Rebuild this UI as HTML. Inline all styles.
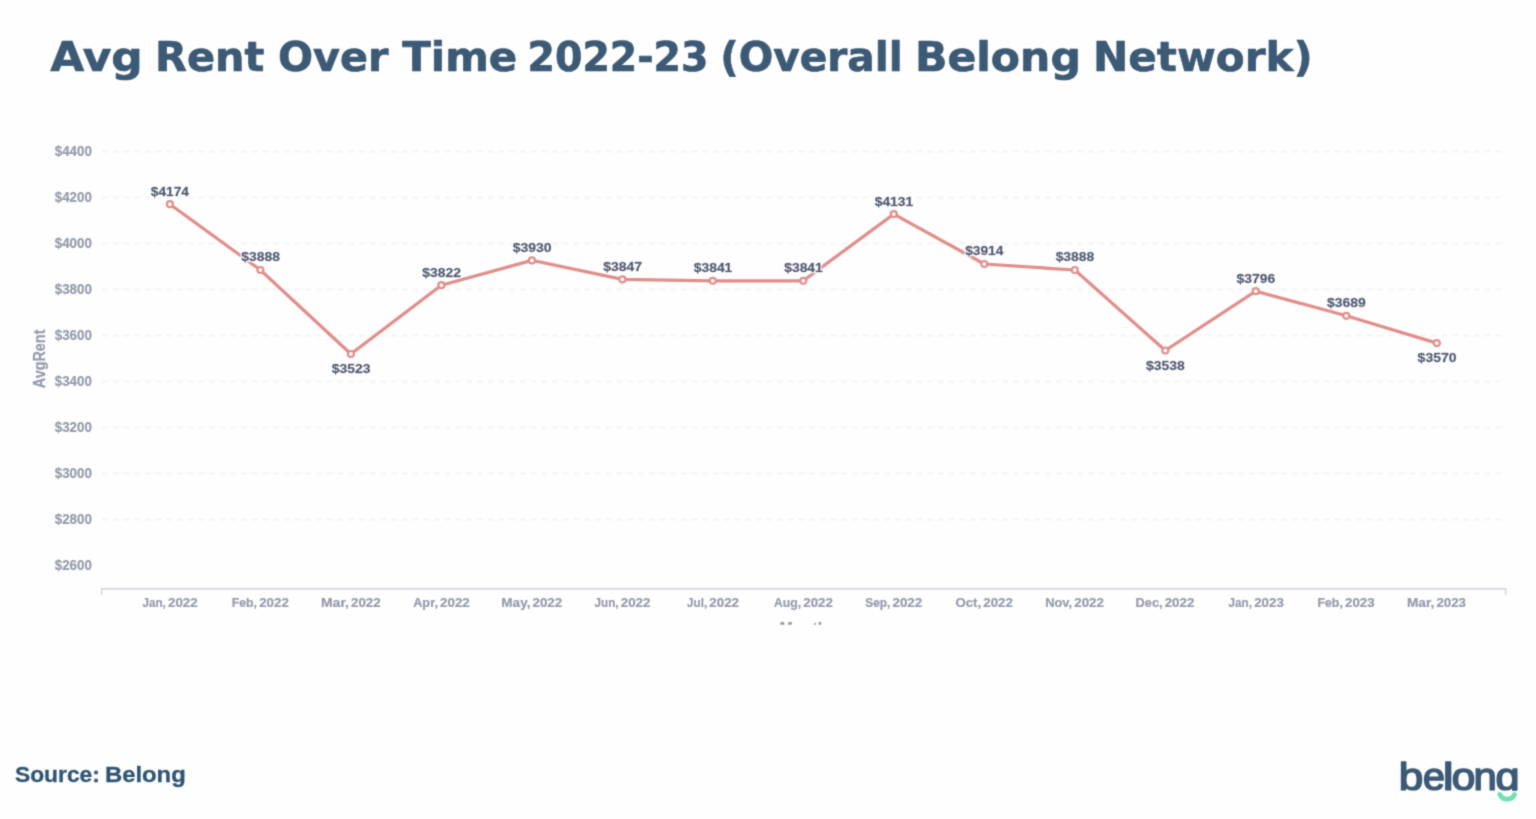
<!DOCTYPE html>
<html lang="en">
<head>
<meta charset="utf-8">
<title>Avg Rent Over Time 2022-23 (Overall Belong Network)</title>
<style>
html,body{margin:0;padding:0;background:#fefefe;}
body{width:1536px;height:819px;overflow:hidden;position:relative;font-family:"Liberation Sans",sans-serif;}
svg{position:absolute;left:0;top:0;display:block;}
text{font-weight:bold;}
.title{font-family:"DejaVu Sans","Liberation Sans",sans-serif;font-size:41.7px;fill:#3c5a75;stroke:#3c5a75;stroke-width:0.7px;stroke-linejoin:round;}
.src{font-family:"Liberation Sans",sans-serif;font-size:22.1px;fill:#2f5572;stroke:#2f5572;stroke-width:0.3px;}
.yl{font-family:"Liberation Sans",sans-serif;font-size:14.1px;fill:#949aab;stroke:#949aab;stroke-width:0.2px;}
.xl{font-family:"Liberation Sans",sans-serif;font-size:13.5px;fill:#949aab;stroke:#949aab;stroke-width:0.2px;}
.ax{font-family:"Liberation Sans",sans-serif;font-size:16px;fill:#949aab;stroke:#949aab;stroke-width:0.2px;}
.dl{font-family:"Liberation Sans",sans-serif;font-size:13.7px;fill:#4c5773;stroke:#4c5773;stroke-width:0.4px;filter:url(#halo);}
.grid line{stroke:#f3f3f5;stroke-width:1.9;stroke-dasharray:5.5 5.22;}
.logo{font-family:"Liberation Sans",sans-serif;font-weight:normal;font-size:38px;fill:#3c5a75;stroke:#3c5a75;stroke-width:1.5px;stroke-linejoin:round;}
</style>
</head>
<body>
<svg width="1536" height="819" viewBox="0 0 1536 819">
<defs>
<filter id="halo" x="-20%" y="-40%" width="140%" height="180%"><feMorphology in="SourceAlpha" operator="dilate" radius="1.4" result="d"/><feFlood flood-color="#fefefe"/><feComposite in2="d" operator="in" result="h"/><feMerge><feMergeNode in="h"/><feMergeNode in="SourceGraphic"/></feMerge></filter>
<filter id="soft" filterUnits="userSpaceOnUse" x="0" y="0" width="1536" height="819" color-interpolation-filters="sRGB"><feConvolveMatrix order="3" kernelMatrix="0.0277 0.1110 0.0277 0.1110 0.4452 0.1110 0.0277 0.1110 0.0277" edgeMode="duplicate" preserveAlpha="false"/></filter>
<clipPath id="cm"><rect x="760" y="600" width="90" height="24.7"/></clipPath>
<clipPath id="cl"><rect x="1390" y="750" width="146" height="40.7"/></clipPath>
</defs>
<g filter="url(#soft)">
<text class="title" y="70.95"><tspan x="50.25" textLength="92.50" lengthAdjust="spacingAndGlyphs">Avg</tspan> <tspan x="155.11" textLength="109.32" lengthAdjust="spacingAndGlyphs">Rent</tspan> <tspan x="277.92" textLength="110.35" lengthAdjust="spacingAndGlyphs">Over</tspan> <tspan x="402.25" textLength="114.97" lengthAdjust="spacingAndGlyphs">Time</tspan> <tspan x="527.57" textLength="180.87" lengthAdjust="spacingAndGlyphs">2022-23</tspan> <tspan x="720.18" textLength="182.41" lengthAdjust="spacingAndGlyphs">(Overall</tspan> <tspan x="915.03" textLength="165.82" lengthAdjust="spacingAndGlyphs">Belong</tspan> <tspan x="1093.06" textLength="219.74" lengthAdjust="spacingAndGlyphs">Network)</tspan></text>
<g class="grid">
<line x1="102" y1="151.5" x2="1502" y2="151.5"/>
<line x1="102" y1="197.5" x2="1502" y2="197.5"/>
<line x1="102" y1="243.5" x2="1502" y2="243.5"/>
<line x1="102" y1="289.5" x2="1502" y2="289.5"/>
<line x1="102" y1="335.5" x2="1502" y2="335.5"/>
<line x1="102" y1="381.5" x2="1502" y2="381.5"/>
<line x1="102" y1="427.5" x2="1502" y2="427.5"/>
<line x1="102" y1="473.5" x2="1502" y2="473.5"/>
<line x1="102" y1="519.5" x2="1502" y2="519.5"/>
</g>
<text class="yl" x="54.80" y="156.2" textLength="37.04" lengthAdjust="spacingAndGlyphs">$4400</text>
<text class="yl" x="54.80" y="202.2" textLength="37.04" lengthAdjust="spacingAndGlyphs">$4200</text>
<text class="yl" x="54.80" y="248.2" textLength="37.04" lengthAdjust="spacingAndGlyphs">$4000</text>
<text class="yl" x="54.80" y="294.1" textLength="37.04" lengthAdjust="spacingAndGlyphs">$3800</text>
<text class="yl" x="54.80" y="340.1" textLength="37.04" lengthAdjust="spacingAndGlyphs">$3600</text>
<text class="yl" x="54.80" y="386.1" textLength="37.04" lengthAdjust="spacingAndGlyphs">$3400</text>
<text class="yl" x="54.80" y="432.1" textLength="37.04" lengthAdjust="spacingAndGlyphs">$3200</text>
<text class="yl" x="54.80" y="478.1" textLength="37.04" lengthAdjust="spacingAndGlyphs">$3000</text>
<text class="yl" x="54.80" y="524.1" textLength="37.04" lengthAdjust="spacingAndGlyphs">$2800</text>
<text class="yl" x="54.80" y="570.1" textLength="37.04" lengthAdjust="spacingAndGlyphs">$2600</text>
<text class="ax" style="font-size:17px" transform="translate(45.2 388.1) rotate(-90)" x="-0.13" y="0" textLength="58.70" lengthAdjust="spacingAndGlyphs">AvgRent</text>
<path d="M101.6 595 V588.7 H1505.6 V595" fill="none" stroke="#d0d2da" stroke-width="1.4"/>
<text class="xl" y="607.45"><tspan x="142.40" textLength="23.39" lengthAdjust="spacingAndGlyphs">Jan,</tspan> <tspan x="167.98" textLength="29.65" lengthAdjust="spacingAndGlyphs">2022</tspan></text>
<text class="xl" y="607.45"><tspan x="231.83" textLength="25.19" lengthAdjust="spacingAndGlyphs">Feb,</tspan> <tspan x="259.18" textLength="29.65" lengthAdjust="spacingAndGlyphs">2022</tspan></text>
<text class="xl" y="607.45"><tspan x="321.03" textLength="27.89" lengthAdjust="spacingAndGlyphs">Mar,</tspan> <tspan x="350.98" textLength="29.65" lengthAdjust="spacingAndGlyphs">2022</tspan></text>
<text class="xl" y="607.45"><tspan x="413.20" textLength="24.75" lengthAdjust="spacingAndGlyphs">Apr,</tspan> <tspan x="440.08" textLength="29.65" lengthAdjust="spacingAndGlyphs">2022</tspan></text>
<text class="xl" y="607.45"><tspan x="501.36" textLength="29.04" lengthAdjust="spacingAndGlyphs">May,</tspan> <tspan x="532.48" textLength="29.65" lengthAdjust="spacingAndGlyphs">2022</tspan></text>
<text class="xl" y="607.45"><tspan x="594.60" textLength="23.99" lengthAdjust="spacingAndGlyphs">Jun,</tspan> <tspan x="620.78" textLength="29.65" lengthAdjust="spacingAndGlyphs">2022</tspan></text>
<text class="xl" y="607.45"><tspan x="687.10" textLength="20.04" lengthAdjust="spacingAndGlyphs">Jul,</tspan> <tspan x="709.33" textLength="29.65" lengthAdjust="spacingAndGlyphs">2022</tspan></text>
<text class="xl" y="607.45"><tspan x="774.01" textLength="27.11" lengthAdjust="spacingAndGlyphs">Aug,</tspan> <tspan x="803.28" textLength="29.65" lengthAdjust="spacingAndGlyphs">2022</tspan></text>
<text class="xl" y="607.45"><tspan x="865.21" textLength="25.14" lengthAdjust="spacingAndGlyphs">Sep,</tspan> <tspan x="892.53" textLength="29.65" lengthAdjust="spacingAndGlyphs">2022</tspan></text>
<text class="xl" y="607.45"><tspan x="955.49" textLength="25.69" lengthAdjust="spacingAndGlyphs">Oct,</tspan> <tspan x="983.28" textLength="29.65" lengthAdjust="spacingAndGlyphs">2022</tspan></text>
<text class="xl" y="607.45"><tspan x="1045.19" textLength="26.97" lengthAdjust="spacingAndGlyphs">Nov,</tspan> <tspan x="1074.28" textLength="29.65" lengthAdjust="spacingAndGlyphs">2022</tspan></text>
<text class="xl" y="607.45"><tspan x="1135.60" textLength="26.95" lengthAdjust="spacingAndGlyphs">Dec,</tspan> <tspan x="1164.68" textLength="29.65" lengthAdjust="spacingAndGlyphs">2022</tspan></text>
<text class="xl" y="607.45"><tspan x="1228.60" textLength="23.39" lengthAdjust="spacingAndGlyphs">Jan,</tspan> <tspan x="1254.18" textLength="29.65" lengthAdjust="spacingAndGlyphs">2023</tspan></text>
<text class="xl" y="607.45"><tspan x="1317.53" textLength="25.30" lengthAdjust="spacingAndGlyphs">Feb,</tspan> <tspan x="1344.98" textLength="29.65" lengthAdjust="spacingAndGlyphs">2023</tspan></text>
<text class="xl" y="607.45"><tspan x="1406.95" textLength="27.36" lengthAdjust="spacingAndGlyphs">Mar,</tspan> <tspan x="1436.38" textLength="29.65" lengthAdjust="spacingAndGlyphs">2023</tspan></text>
<g clip-path="url(#cm)"><text class="ax" x="779.6" y="634">Month</text></g>
<polyline points="169.9,204.2 260.4,270.0 350.9,354.0 441.4,285.2 531.9,260.4 622.4,279.4 712.8,280.8 803.3,280.8 893.8,214.1 984.3,264.0 1074.8,270.0 1165.3,350.5 1255.8,291.2 1346.3,315.8 1436.8,343.1" fill="none" stroke="#e08e8a" stroke-width="3.2" stroke-linejoin="round" stroke-linecap="round"/>
<text class="dl" x="150.75" y="195.6" textLength="38.21" lengthAdjust="spacingAndGlyphs">$4174</text>
<text class="dl" x="241.24" y="261.4" textLength="38.65" lengthAdjust="spacingAndGlyphs">$3888</text>
<text class="dl" x="331.73" y="373.0" textLength="38.65" lengthAdjust="spacingAndGlyphs">$3523</text>
<text class="dl" x="422.22" y="276.6" textLength="38.65" lengthAdjust="spacingAndGlyphs">$3822</text>
<text class="dl" x="512.71" y="251.8" textLength="38.87" lengthAdjust="spacingAndGlyphs">$3930</text>
<text class="dl" x="603.20" y="270.8" textLength="38.87" lengthAdjust="spacingAndGlyphs">$3847</text>
<text class="dl" x="693.69" y="272.2" textLength="38.65" lengthAdjust="spacingAndGlyphs">$3841</text>
<text class="dl" x="784.18" y="272.2" textLength="38.65" lengthAdjust="spacingAndGlyphs">$3841</text>
<text class="dl" x="874.67" y="205.5" textLength="38.65" lengthAdjust="spacingAndGlyphs">$4131</text>
<text class="dl" x="965.16" y="255.4" textLength="38.21" lengthAdjust="spacingAndGlyphs">$3914</text>
<text class="dl" x="1055.65" y="261.4" textLength="38.65" lengthAdjust="spacingAndGlyphs">$3888</text>
<text class="dl" x="1146.14" y="369.5" textLength="38.65" lengthAdjust="spacingAndGlyphs">$3538</text>
<text class="dl" x="1236.63" y="282.6" textLength="38.65" lengthAdjust="spacingAndGlyphs">$3796</text>
<text class="dl" x="1327.12" y="307.2" textLength="38.65" lengthAdjust="spacingAndGlyphs">$3689</text>
<text class="dl" x="1417.61" y="362.1" textLength="38.87" lengthAdjust="spacingAndGlyphs">$3570</text>
<circle cx="169.9" cy="204.2" r="3" fill="#fff" stroke="#e08e8a" stroke-width="2.2"/>
<circle cx="260.4" cy="270.0" r="3" fill="#fff" stroke="#e08e8a" stroke-width="2.2"/>
<circle cx="350.9" cy="354.0" r="3" fill="#fff" stroke="#e08e8a" stroke-width="2.2"/>
<circle cx="441.4" cy="285.2" r="3" fill="#fff" stroke="#e08e8a" stroke-width="2.2"/>
<circle cx="531.9" cy="260.4" r="3" fill="#fff" stroke="#e08e8a" stroke-width="2.2"/>
<circle cx="622.4" cy="279.4" r="3" fill="#fff" stroke="#e08e8a" stroke-width="2.2"/>
<circle cx="712.8" cy="280.8" r="3" fill="#fff" stroke="#e08e8a" stroke-width="2.2"/>
<circle cx="803.3" cy="280.8" r="3" fill="#fff" stroke="#e08e8a" stroke-width="2.2"/>
<circle cx="893.8" cy="214.1" r="3" fill="#fff" stroke="#e08e8a" stroke-width="2.2"/>
<circle cx="984.3" cy="264.0" r="3" fill="#fff" stroke="#e08e8a" stroke-width="2.2"/>
<circle cx="1074.8" cy="270.0" r="3" fill="#fff" stroke="#e08e8a" stroke-width="2.2"/>
<circle cx="1165.3" cy="350.5" r="3" fill="#fff" stroke="#e08e8a" stroke-width="2.2"/>
<circle cx="1255.8" cy="291.2" r="3" fill="#fff" stroke="#e08e8a" stroke-width="2.2"/>
<circle cx="1346.3" cy="315.8" r="3" fill="#fff" stroke="#e08e8a" stroke-width="2.2"/>
<circle cx="1436.8" cy="343.1" r="3" fill="#fff" stroke="#e08e8a" stroke-width="2.2"/>
<text class="src" y="781.8"><tspan x="14.99" textLength="84.85" lengthAdjust="spacingAndGlyphs">Source:</tspan> <tspan x="104.91" textLength="80.87" lengthAdjust="spacingAndGlyphs">Belong</tspan></text>
<g clip-path="url(#cl)"><text class="logo" y="789.5"><tspan x="1398.69" textLength="24.55" lengthAdjust="spacingAndGlyphs">b</tspan><tspan x="1423.02" textLength="21.93" lengthAdjust="spacingAndGlyphs">e</tspan><tspan x="1442.78" textLength="10.90" lengthAdjust="spacingAndGlyphs">l</tspan><tspan x="1451.73" textLength="23.54" lengthAdjust="spacingAndGlyphs">o</tspan><tspan x="1473.44" textLength="23.26" lengthAdjust="spacingAndGlyphs">n</tspan><tspan x="1495.60" textLength="24.09" lengthAdjust="spacingAndGlyphs">g</tspan></text></g>
<path d="M1499.9 794.6 A8 8 0 0 0 1514.5 794.6" fill="none" stroke="#74e0b1" stroke-width="5" stroke-linecap="round"/>
</g>
</svg>
</body>
</html>
